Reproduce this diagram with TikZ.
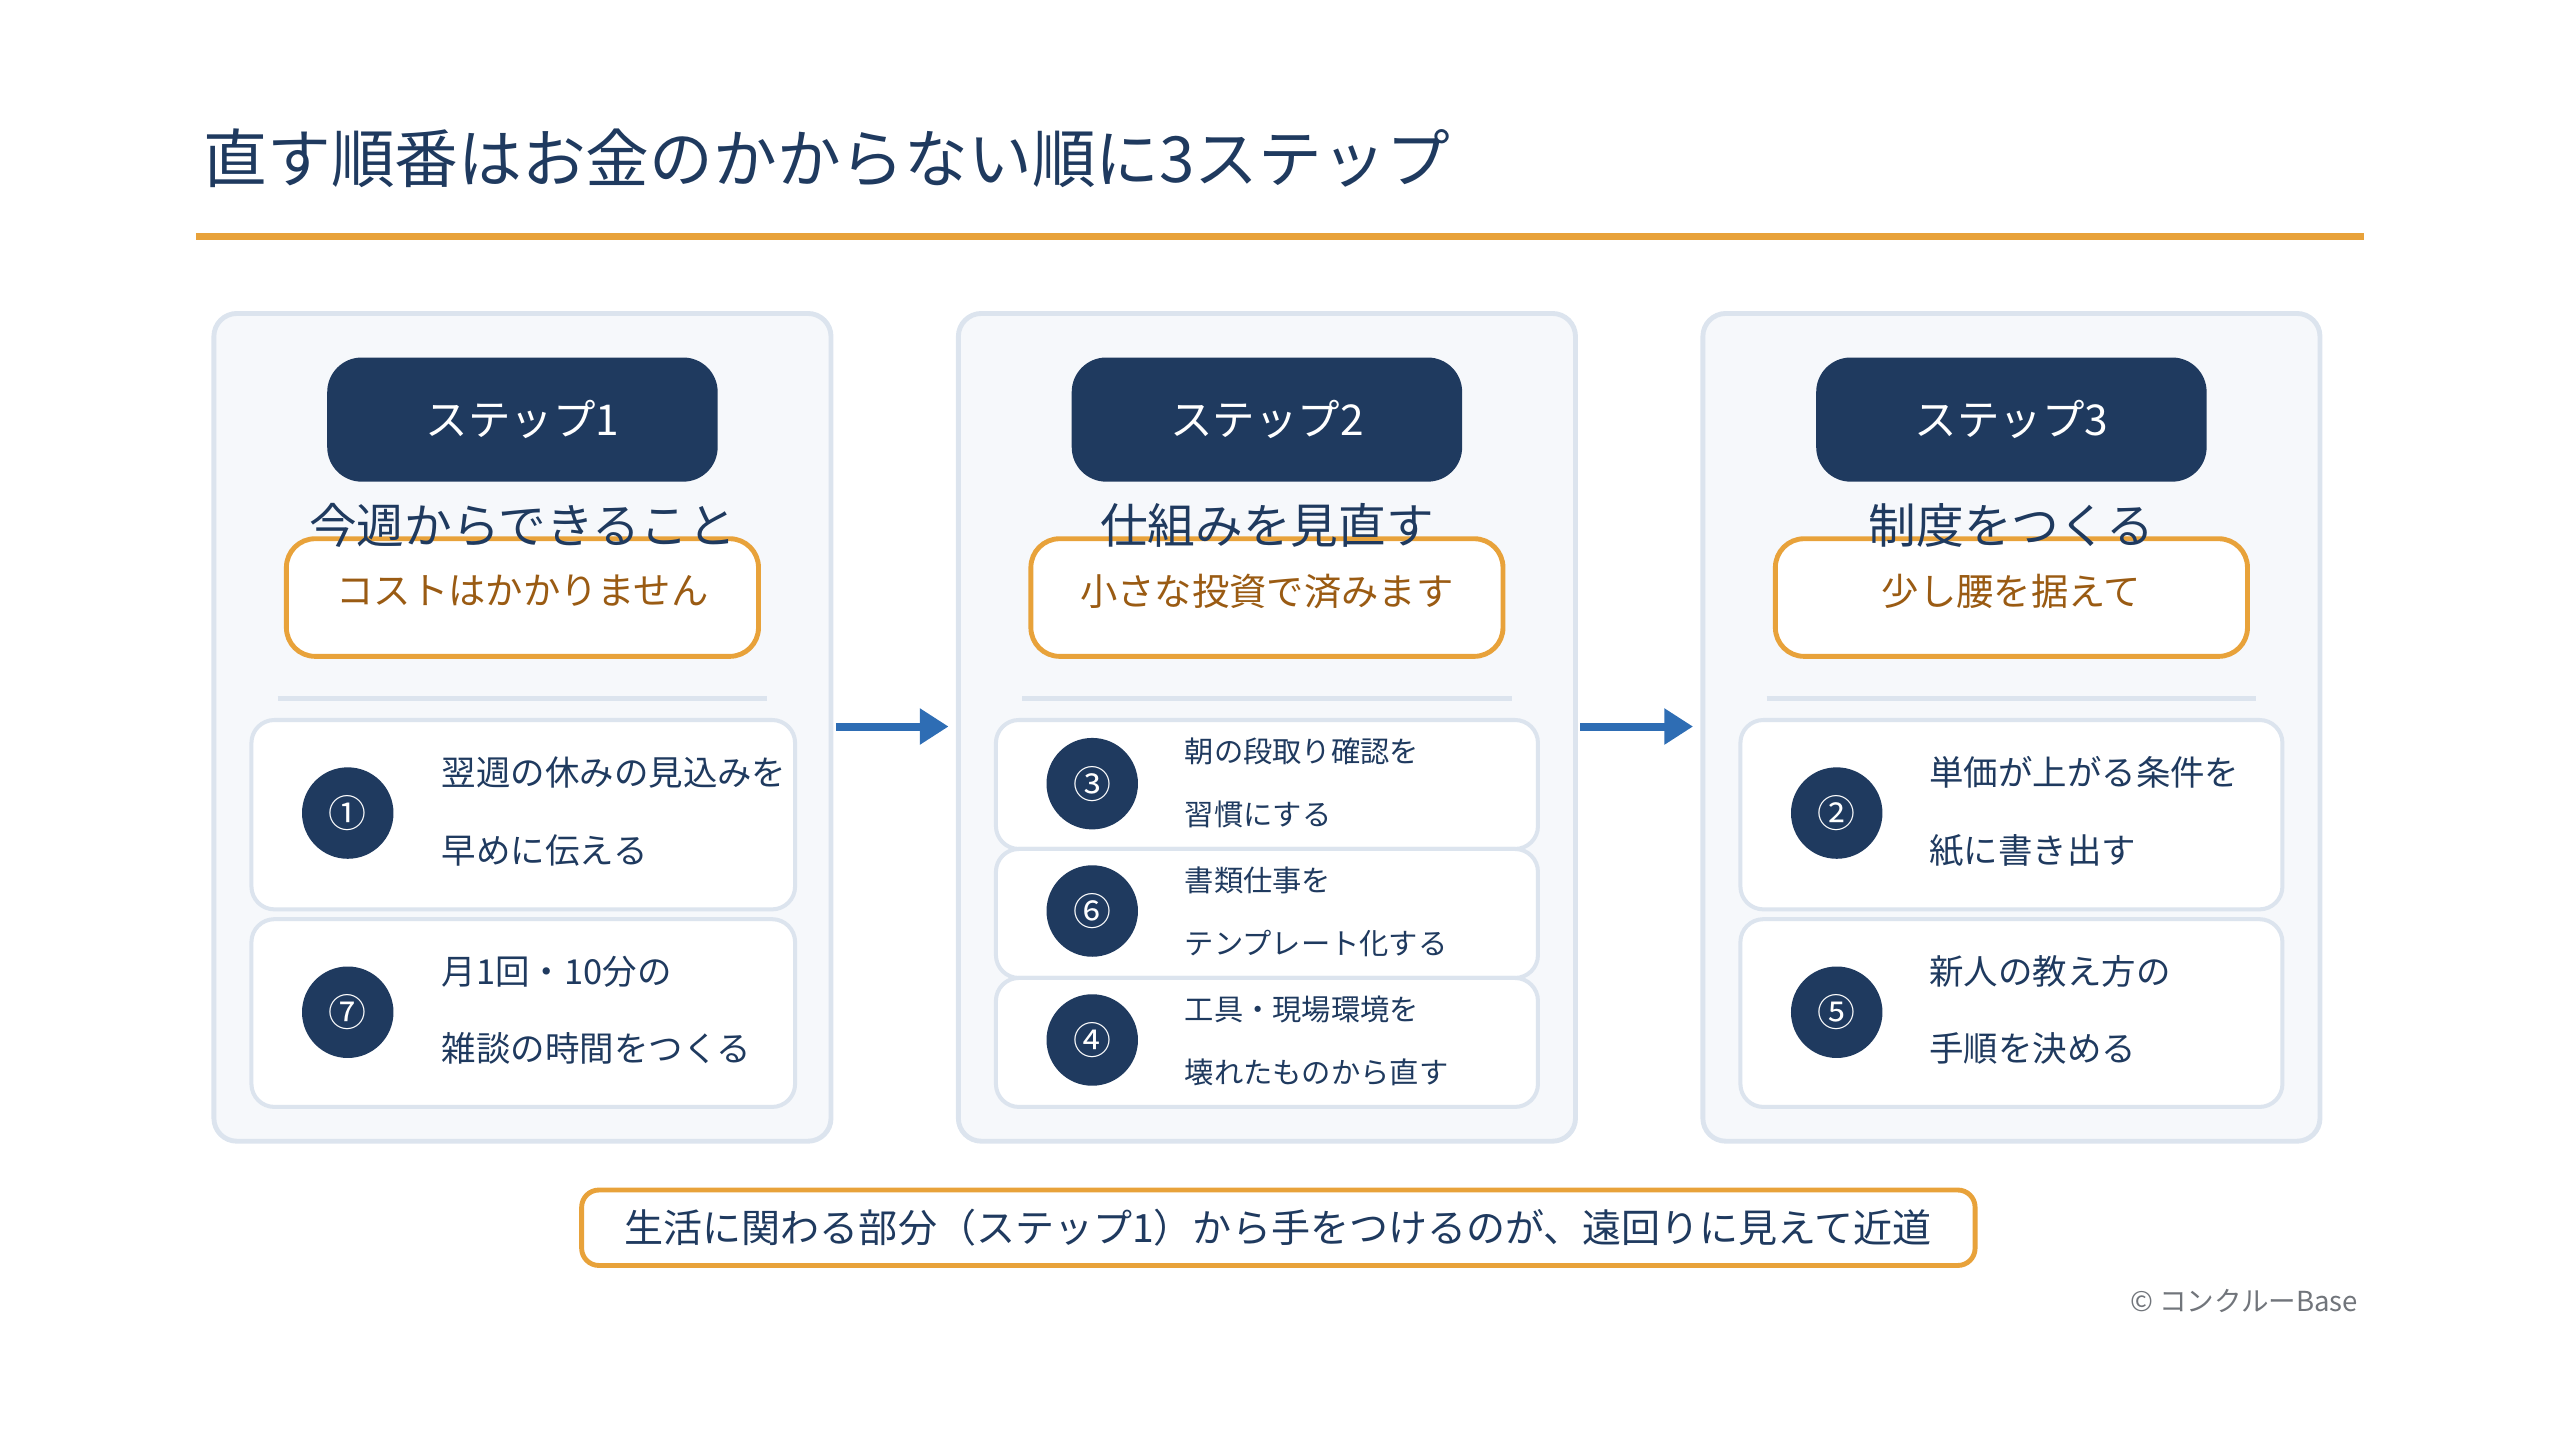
\documentclass[tikz,border=0pt]{standalone}
\usepackage{fontspec}
\setmainfont{Noto Sans CJK JP}
\usetikzlibrary{arrows.meta}
\definecolor{navy}{HTML}{1F3A5F}
\definecolor{orng}{HTML}{E8A23A}
\definecolor{brwn}{HTML}{9A5B13}
\definecolor{pale}{HTML}{DCE4EE}
\definecolor{panelbg}{HTML}{F6F8FB}
\definecolor{arrowblue}{HTML}{2E6DB4}
\begin{document}
\begin{tikzpicture}[x=0.01cm,y=-0.01cm]
\tikzstyle{Panel}=[draw=pale, fill=panelbg, line width=0.85pt, rounded corners=4pt];
\tikzstyle{Head}=[fill=navy, rounded corners=6pt, minimum width=2.39cm, minimum height=0.76cm, text=white, font=\fontsize{7.4pt}{8pt}\selectfont];
\tikzstyle{Sub}=[text=navy, font=\fontsize{8.3pt}{9pt}\selectfont];
\tikzstyle{Tag}=[draw=orng, fill=white, line width=0.85pt, rounded corners=5pt, minimum width=2.89cm, minimum height=0.72cm, text=brwn, font=\fontsize{6.5pt}{7pt}\selectfont];
\tikzstyle{Item}=[draw=pale, fill=white, line width=0.7pt, rounded corners=4pt];
\tikzstyle{Num}=[circle, fill=navy, minimum size=0.56cm, inner sep=0pt, text=white, font=\fontsize{6.6pt}{7pt}\selectfont];
\tikzstyle{Txt}=[anchor=west, text=navy, inner sep=0pt, font=\fontsize{6pt}{7pt}\selectfont];
\tikzstyle{Txts}=[anchor=west, text=navy, inner sep=0pt, font=\fontsize{5.1pt}{6pt}\selectfont];
\tikzstyle{seq}=[-{Triangle[length=5pt,width=6pt]}, arrowblue, line width=1.4pt];
\useasboundingbox (0,0) rectangle (1568,882);
% title
\node[anchor=west, text=navy, inner sep=0pt, font=\fontsize{11.1pt}{12pt}\selectfont] (title) at (124,97) {直す順番はお金のかからない順に3ステップ};
\draw[orng, line width=1.2pt] (120,145) -- (1448,145);
% panels
\foreach \x/\n/\s/\t in {0/1/今週からできること/コストはかかりません,
                          456/2/仕組みを見直す/小さな投資で済みます,
                          912/3/制度をつくる/少し腰を据えて}{
  \begin{scope}[xshift=\x*0.01cm]
  \draw[Panel] (131,192) rectangle (509,699);
  \node[Head] (h\n) at (320,257) {ステップ\n};
  \node[Tag] (t\n) at (320,366) {};
  \node[Sub] (s\n) at (320,322) {\s};
  \node[text=brwn, font=\fontsize{6.5pt}{7pt}\selectfont] at (320,362) {\t};
  \draw[pale, line width=0.85pt] (170,428) -- (470,428);
  \end{scope}
}
% step 1 items
\draw[Item] (154,441) rectangle (487,557);
\node[Num] (n1) at (213,498) {①};
\node[Txt] at (270,473) {翌週の休みの見込みを};
\node[Txt] at (270,521) {早めに伝える};
\draw[Item] (154,563) rectangle (487,678);
\node[Num] (n7) at (213,620) {⑦};
\node[Txt] at (270,595) {月1回・10分の};
\node[Txt] at (270,642) {雑談の時間をつくる};
% step 2 items
\draw[Item] (610,441) rectangle (942,520);
\node[Num] (n3) at (669,480) {③};
\node[Txts] at (725,460) {朝の段取り確認を};
\node[Txts] at (725,499) {習慣にする};
\draw[Item] (610,520) rectangle (942,599);
\node[Num] (n6) at (669,558) {⑥};
\node[Txts] at (725,539) {書類仕事を};
\node[Txts] at (725,578) {テンプレート化する};
\draw[Item] (610,599) rectangle (942,678);
\node[Num] (n4) at (669,637) {④};
\node[Txts] at (725,618) {工具・現場環境を};
\node[Txts] at (725,657) {壊れたものから直す};
% step 3 items
\draw[Item] (1066,441) rectangle (1398,557);
\node[Num] (n2) at (1125,498) {②};
\node[Txt] at (1181,473) {単価が上がる条件を};
\node[Txt] at (1181,521) {紙に書き出す};
\draw[Item] (1066,563) rectangle (1398,678);
\node[Num] (n5) at (1125,620) {⑤};
\node[Txt] at (1181,595) {新人の教え方の};
\node[Txt] at (1181,642) {手順を決める};
% arrows
\coordinate (a1) at (512,445); \coordinate (b1) at (581,445);
\coordinate (a2) at (968,445); \coordinate (b2) at (1037,445);
\draw[seq] (a1) -- (b1);
\draw[seq] (a2) -- (b2);
% footer
\node[draw=orng, fill=white, line width=0.85pt, rounded corners=3pt, minimum width=8.53cm, minimum height=0.45cm, text=navy, font=\fontsize{6.8pt}{7pt}\selectfont] (note) at (783,752) {生活に関わる部分（ステップ1）から手をつけるのが、遠回りに見えて近道};
\node[anchor=east, text=gray!85!navy, inner sep=0pt, font=\fontsize{4.8pt}{5pt}\selectfont] (copy) at (1445,797) {© コンクルーBase};
\end{tikzpicture}
\end{document}
